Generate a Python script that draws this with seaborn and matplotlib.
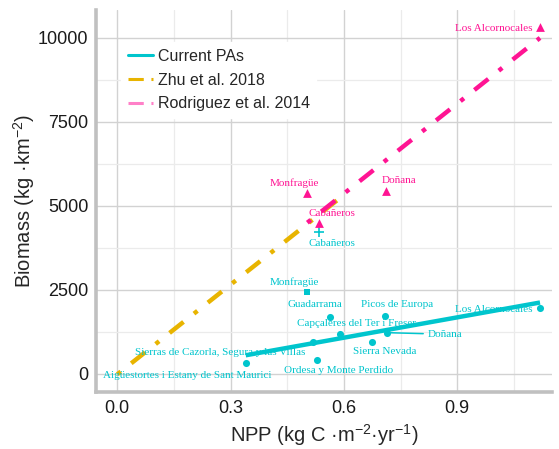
import numpy as np
import pandas as pd
import seaborn as sns
import matplotlib.pyplot as plt
from matplotlib.lines import Line2D
from matplotlib.ticker import MultipleLocator, FormatStrFormatter

# current protected areas (circles)
pa_sites = ["Aigüestortes i Estany de Sant Maurici", "Sierras de Cazorla, Segura y las Villas",
            "Ordesa y Monte Perdido", "Guadarrama", "Capçaleres del Ter i Freser",
            "Sierra Nevada", "Picos de Europa", "Doñana", "Los Alcornocales"]
pa_npp = [0.519, 0.340, 0.529, 0.563, 0.589, 0.673, 0.708, 0.713, 1.119]
pa_biomass = [935, 310, 408, 1679, 1173, 952, 1726, 1220, 1946]

# the two extra current PAs drawn with other shapes
mon_npp, mon_biomass = [0.503], [2423]
cab_npp, cab_biomass = [0.534], [4208]

# Rodriguez et al. 2014 (triangles)
rod_sites = ["Monfragüe", "Cabañeros", "Doñana", "Los Alcornocales"]
rod_npp = [0.503, 0.534, 0.711, 1.119]
rod_biomass = [5369, 4476, 5446, 10310]

# Zhu et al. 2018 line
zhu_npp = [0.0, 0.582]
zhu_biomass = [-20, 5160]

x_ticks = [0.0, 0.3, 0.6, 0.9]
y_ticks = [0, 2500, 5000, 7500, 10000]

# label placement (layout only)
pa_label_pos = {
    "Aigüestortes i Estany de Sant Maurici": (0.184, -60),
    "Sierras de Cazorla, Segura y las Villas": (0.273, 631),
    "Ordesa y Monte Perdido": (0.587, 80),
    "Guadarrama": (0.522, 2065),
    "Capçaleres del Ter i Freser": (0.633, 1500),
    "Sierra Nevada": (0.709, 646),
    "Picos de Europa": (0.741, 2065),
    "Doñana": (0.868, 1173),
    "Los Alcornocales": (0.996, 1905),
}
mon_label_pos = (0.468, 2729)
cab_label_pos = (0.569, 3869)
rod_label_pos = [(0.468, 5667), (0.569, 4774), (0.747, 5744), (0.996, 10280)]

cyan = "#00c5cd"
gold = "#e8b400"
pink = "#ff1493"
dotdash = (0, (1, 3, 4, 3))

sns.set_style("white")
plt.rcParams["font.family"] = ["Liberation Sans", "DejaVu Sans"]
plt.rcParams["mathtext.fontset"] = "custom"
plt.rcParams["mathtext.rm"] = "Liberation Sans"
plt.rcParams["mathtext.it"] = "Liberation Sans:italic"

fig, ax = plt.subplots(figsize=(5.59, 4.49), dpi=100)
fig.subplots_adjust(left=0.172, right=0.987, bottom=0.127, top=0.978)

pa = pd.DataFrame({"npp": pa_npp, "biomass": pa_biomass, "site": pa_sites})
rod = pd.DataFrame({"npp": rod_npp, "biomass": rod_biomass, "site": rod_sites})

sns.regplot(data=pa, x="npp", y="biomass", scatter=False, ci=None, ax=ax, color=cyan,
            line_kws={"lw": 3.2, "solid_capstyle": "butt", "zorder": 3})
sns.lineplot(x=zhu_npp, y=zhu_biomass, ax=ax, color=gold, lw=3.2, linestyle=dotdash,
             dash_capstyle="butt", zorder=3)
sns.regplot(data=rod, x="npp", y="biomass", scatter=False, ci=None, ax=ax, color=pink,
            line_kws={"lw": 3.2, "linestyle": dotdash, "dash_capstyle": "butt", "zorder": 3})

sns.scatterplot(data=pa, x="npp", y="biomass", ax=ax, color=cyan, s=26, linewidth=0, zorder=4)
sns.scatterplot(x=mon_npp, y=mon_biomass, ax=ax, color=cyan, marker="s", s=24, linewidth=0, zorder=4)
sns.scatterplot(x=cab_npp, y=cab_biomass, ax=ax, color=cyan, marker="+", s=45, linewidth=1.2, zorder=4)
sns.scatterplot(data=rod, x="npp", y="biomass", ax=ax, color=pink, marker="^", s=40, linewidth=0, zorder=4)

lab_kw = dict(family=["Liberation Serif", "DejaVu Serif"], fontsize=8, ha="center", va="center", zorder=5)
for site, x, y in zip(pa_sites, pa_npp, pa_biomass):
    lx, ly = pa_label_pos[site]
    if site == "Doñana":
        ax.annotate(site, xy=(x, y), xytext=(lx, ly), color=cyan,
                    arrowprops=dict(arrowstyle="-", color=cyan, lw=1.1, shrinkA=1, shrinkB=2), **lab_kw)
    else:
        ax.text(lx, ly, site, color=cyan, **lab_kw)
ax.text(*mon_label_pos, "Monfragüe", color=cyan, **lab_kw)
ax.text(*cab_label_pos, "Cabañeros", color=cyan, **lab_kw)
for site, (lx, ly) in zip(rod_sites, rod_label_pos):
    ax.text(lx, ly, site, color=pink, **lab_kw)

ax.set_xlim(-0.056, 1.150)
ax.set_ylim(-545, 10824)
ax.set_xticks(x_ticks)
ax.set_yticks(y_ticks)
ax.xaxis.set_major_formatter(FormatStrFormatter("%.1f"))
ax.xaxis.set_minor_locator(MultipleLocator(0.15))
ax.yaxis.set_minor_locator(MultipleLocator(1250))
ax.tick_params(which="major", length=3.5, width=1, color="#333333", labelsize=13,
               labelcolor="#1a1a1a", pad=2)
ax.tick_params(which="minor", length=0)

ax.grid(which="minor", color="#ebebeb", lw=0.9, zorder=0)
ax.grid(which="major", color="#d2d2d2", lw=1.0, zorder=0)
for v in x_ticks:
    ax.axvline(v, color="#a8a8a8", lw=0.7, ls=(0, (2, 2)), zorder=0.5)
for v in y_ticks:
    ax.axhline(v, color="#a8a8a8", lw=0.7, ls=(0, (2, 2)), zorder=0.5)
ax.set_axisbelow(True)

for s in ["top", "right"]:
    ax.spines[s].set_visible(False)
for s in ["left", "bottom"]:
    ax.spines[s].set_color("#c0c0c0")
    ax.spines[s].set_linewidth(2.6)

ax.set_xlabel("NPP (kg C ·m$^{-2}$·yr$^{-1}$)", fontsize=14.5, labelpad=4)
ax.set_ylabel("Biomass (kg ·km$^{-2}$)", fontsize=14.5, labelpad=1)

handles = [
    Line2D([], [], color=cyan, lw=2.2),
    Line2D([], [], color=gold, lw=2.2, dashes=(5, 2.5, 1.2, 2.5)),
    Line2D([], [], color="#ff80c8", lw=2.2, dashes=(5, 2.5, 1.2, 2.5)),
]
leg = ax.legend(handles, ["Current PAs", "Zhu et al. 2018", "Rodriguez et al. 2014"],
                loc="upper left", bbox_to_anchor=(0.055, 0.915), borderaxespad=0,
                fontsize=11.5, frameon=True, facecolor="white", edgecolor="white",
                framealpha=1, fancybox=False, handlelength=1.6, handletextpad=0.3,
                labelspacing=0.55, borderpad=0.4)
leg.set_zorder(6)

fig.savefig("out.png", dpi=100)
